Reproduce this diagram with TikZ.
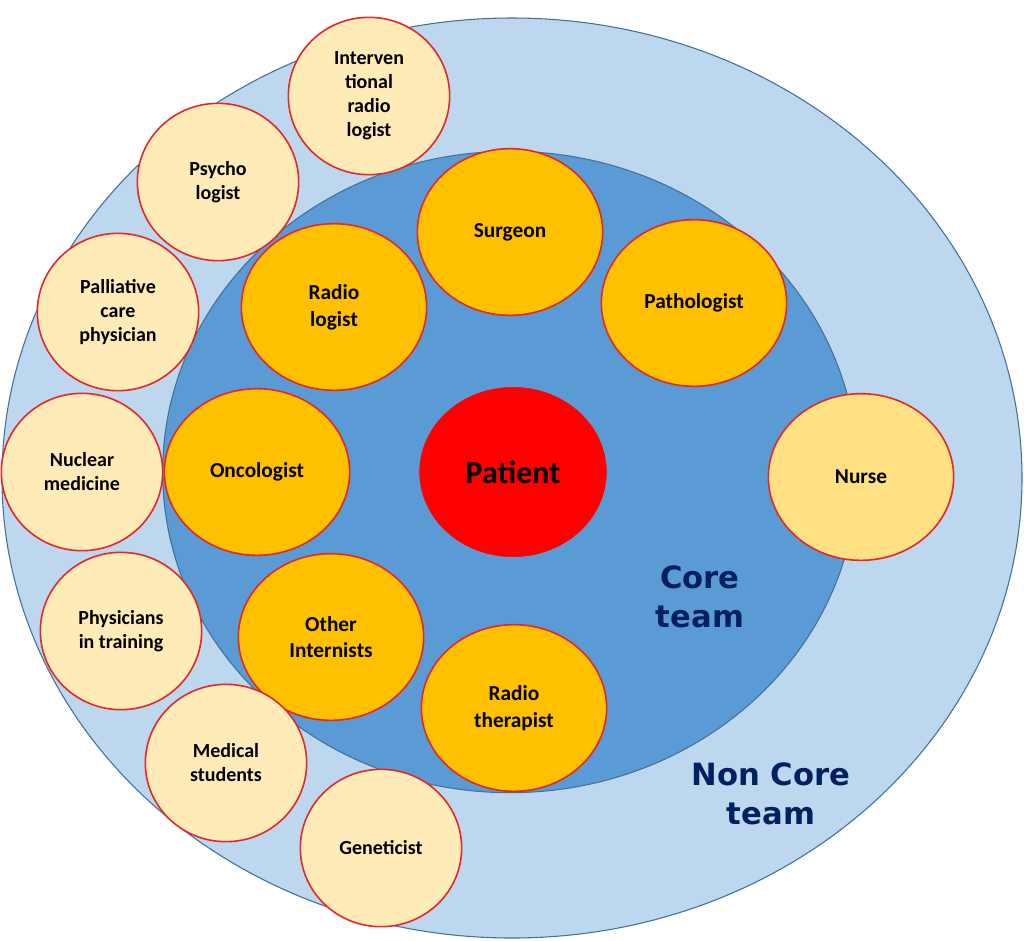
\documentclass[tikz,border=0pt]{standalone}
\usepackage{fontspec}
\setmainfont{Carlito}
\newfontfamily\teamfont{DejaVu Sans}
\usetikzlibrary{shapes.geometric}
\definecolor{outerblue}{HTML}{BDD7EE}
\definecolor{innerblue}{HTML}{5B9BD5}
\definecolor{ringline}{HTML}{41719C}
\definecolor{coreorange}{HTML}{FFC000}
\definecolor{paleyellow}{HTML}{FFEBB8}
\definecolor{nurseyellow}{HTML}{FFE083}
\definecolor{rimred}{HTML}{E42828}
\definecolor{navy}{HTML}{002060}

\begin{document}
\begin{tikzpicture}[
  x=0.75pt, y=-0.75pt,
  ring/.style={ellipse, draw=ringline, line width=0.8pt, inner sep=0pt},
  core/.style={ellipse, draw=rimred, line width=1.2pt, fill=coreorange, inner sep=0pt,
    minimum width=139pt, minimum height=125pt, align=center,
    font=\fontsize{16}{20}\selectfont\bfseries},
  noncore/.style={ellipse, draw=rimred, line width=1.2pt, fill=paleyellow, inner sep=0pt,
    minimum width=121pt, minimum height=118pt, align=center,
    font=\fontsize{15}{18}\selectfont\bfseries},
  team/.style={text=navy, align=center, font=\teamfont\fontsize{23}{29}\selectfont\bfseries}
]
\useasboundingbox (0,0) rectangle (1024,940);
\fill[white] (0,0) rectangle (1024,940);

% team rings
\node[ring, fill=outerblue, minimum width=765pt, minimum height=690pt] (outer) at (512,478) {};
\node[ring, fill=innerblue, minimum width=521pt, minimum height=481pt] (inner) at (510,472) {};

% centre
\node[ellipse, fill=red, draw=red, inner sep=0pt, minimum width=140pt, minimum height=127pt,
  font=\fontsize{24}{28}\selectfont\bfseries] (patient) at (513,472) {Patient};

% core team
\node[core] (surgeon) at (510,232) {Surgeon};
\node[core] (patho) at (694,303) {Pathologist};
\node[core] (radio) at (334,307) {Radio\\logist};
\node[core] (onco) at (257,472) {Oncologist};
\node[core] (intern) at (331,637) {Other\\Internists};
\node[core] (therap) at (514,708) {Radio\\therapist};
\node[core, fill=nurseyellow] (nurse) at (861,477) {Nurse};

% non core team
\node[noncore] (interv) at (369,96) {Interven\\tional\\radio\\logist};
\node[noncore] (psycho) at (218,182) {Psycho\\logist};
\node[noncore] (palli) at (118,312) {Palliative\\care\\physician};
\node[noncore] (nuclear) at (82,472) {Nuclear\\medicine};
\node[noncore] (training) at (121,631) {Physicians\\in training};
\node[noncore] (students) at (226,763) {Medical\\students};
\node[noncore] (genet) at (381,848) {Geneticist};

% labels
\node[team] (corelbl) at (700,597) {Core\\team};
\node[team] (noncorelbl) at (771,794) {Non Core\\team};
\end{tikzpicture}
\end{document}
